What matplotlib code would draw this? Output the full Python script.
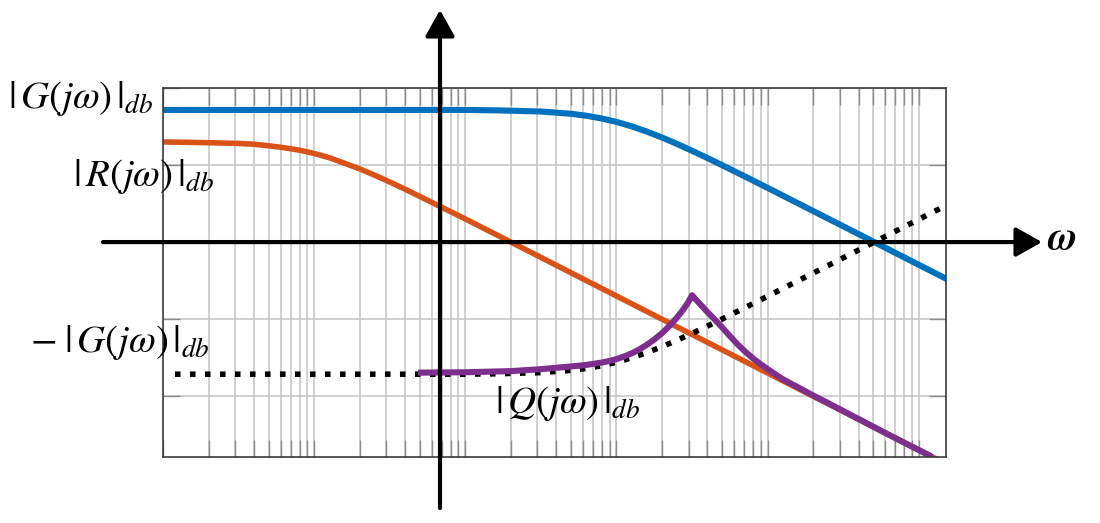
import numpy as np
import matplotlib
matplotlib.use("Agg")
import matplotlib.pyplot as plt
from matplotlib.ticker import LogLocator, MultipleLocator, NullFormatter

plt.rcParams['mathtext.fontset'] = 'stix'

# |G(jw)| en dB (curva azul)
g_w = [1, 10, 100, 160, 250, 316, 398, 501, 631, 794, 1000, 1259, 1585, 1995,
       2512, 3162, 3981, 5012, 6310, 7943, 10000, 31623, 158489]
g_db = [34.3, 34.3, 34.3, 34.2, 34.0, 33.9, 33.6, 33.3, 32.8, 32.1, 31.2, 30.05,
        28.7, 27.17, 25.49, 23.7, 21.85, 19.94, 18.0, 16.04, 14.06, 4.1, -9.9]

# -|G(jw)| en dB (punteada)
gneg_w = [1.2, 10, 100, 160, 250, 316, 398, 501, 631, 794, 1000, 1259, 1585, 1995,
          2512, 3162, 3981, 5012, 6310, 7943, 10000, 31623, 158489]
gneg_db = [-34.3, -34.3, -34.3, -34.2, -34.0, -33.9, -33.6, -33.3, -32.8, -32.1,
           -31.2, -30.05, -28.7, -27.17, -25.49, -23.7, -21.85, -19.94, -18.0,
           -16.04, -14.06, -4.1, 9.9]

# |R(jw)| en dB (naranja)
r_w = [1, 2, 3.16, 4, 5, 6.3, 7.9, 10, 12.6, 15.8, 20, 25, 31.6, 40, 63, 100,
       200, 1000, 10000, 200000]
r_db = [26.0, 25.8, 25.6, 25.4, 25.0, 24.5, 23.9, 23.0, 21.9, 20.5, 19.0, 17.4,
        15.6, 13.7, 9.9, 6.0, 0.0, -14.0, -34.0, -60.0]

# |Q(jw)| en dB (morada)
q_w = [51, 100, 200, 316, 500, 631, 794, 891, 1000, 1122, 1259, 1413, 1585,
       1778, 1995, 2239, 2512, 2754, 2951, 3162, 3311, 3631, 3981, 4467, 5012,
       5623, 6310, 7079, 7943, 8913, 10000, 12589, 15849, 19953, 25119, 39811,
       63096, 100000, 117490]
q_db = [-33.9, -33.8, -33.5, -33.0, -32.3, -31.9, -31.3, -30.9, -30.4, -29.7,
        -28.9, -27.9, -26.7, -25.3, -23.7, -21.8, -19.6, -17.6, -15.9, -13.8,
        -14.7, -16.4, -18.1, -20.1, -22.2, -24.4, -26.5, -28.4, -30.1, -31.6,
        -33.0, -35.6, -37.7, -39.8, -41.8, -45.9, -50.0, -54.0, -55.4]

W, H = 1100, 523
fig = plt.figure(figsize=(W / 100, H / 100), dpi=100)
ax = fig.add_axes([163 / W, 1 - 457 / H, (946 - 163) / W, (457 - 88) / H])

ax.set_xscale('log')
ax.set_xlim(1, 10 ** 5.18)
ax.set_ylim(-55.8, 40)
ax.xaxis.set_major_locator(LogLocator(base=10, numticks=20))
ax.xaxis.set_minor_locator(LogLocator(base=10, subs=np.arange(2, 10), numticks=20))
ax.xaxis.set_minor_formatter(NullFormatter())
ax.yaxis.set_major_locator(MultipleLocator(20))
ax.grid(True, which='both', color='#c8c8c8', lw=1.2)
ax.set_axisbelow(True)
ax.tick_params(which='both', direction='in', top=True, right=True,
               labelleft=False, labelbottom=False, color='#8c8c8c',
               length=12, width=1)
for s in ax.spines.values():
    s.set_color('#3c3c3c')
    s.set_linewidth(1.2)

ax.plot(g_w, g_db, color='#0072BD', lw=4.4, solid_joinstyle='round')
ax.plot(r_w, r_db, color='#D95319', lw=4.0, solid_joinstyle='round')
ax.plot(gneg_w, gneg_db, color='black', lw=4.0, dashes=(1, 1.7),
        dash_capstyle='butt')
ax.plot(q_w, q_db, color='#7E2F8E', lw=4.4, solid_joinstyle='round')

# ejes con flechas
flecha = dict(arrowstyle='-|>,head_length=0.8,head_width=0.45', color='black',
              lw=3, mutation_scale=20, shrinkA=0, shrinkB=0)
ax.annotate('', xy=(1042, 0), xytext=(103, 0),
            xycoords=('figure pixels', 'data'), textcoords=('figure pixels', 'data'),
            arrowprops=flecha, annotation_clip=False)
ax.annotate('', xy=(68, H - 10), xytext=(68, H - 508),
            xycoords=('data', 'figure pixels'), textcoords=('data', 'figure pixels'),
            arrowprops=flecha, annotation_clip=False)

fs = 28
fig.text(8 / W, 1 - 108 / H, r'$|\,G(j\omega)\,|_{db}$', fontsize=fs, va='baseline')
fig.text(73 / W, 1 - 186 / H, r'$|\,R(j\omega)\,|_{db}$', fontsize=fs, va='baseline')
fig.text(30 / W, 1 - 352 / H, r'$-\;|\,G(j\omega)\,|_{db}$', fontsize=fs, va='baseline')
fig.text(495 / W, 1 - 413 / H, r'$|\,Q(j\omega)\,|_{db}$', fontsize=fs, va='baseline')
fig.text(1047 / W, 1 - 249 / H, r'$\boldsymbol{\omega}$', fontsize=29, va='baseline')

fig.savefig('out.png', dpi=100)
